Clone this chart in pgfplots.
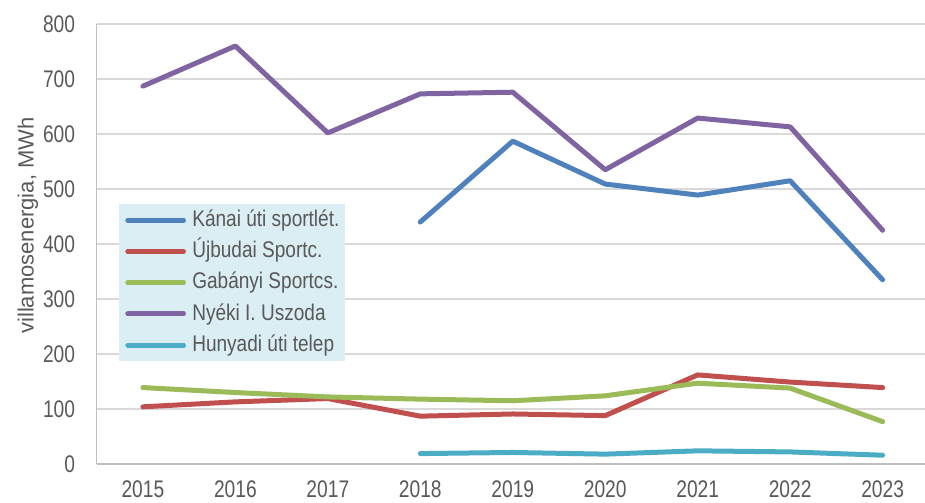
\documentclass[border=0pt]{standalone}
\usepackage{fontspec}
\setmainfont{Liberation Sans}
\newfontfamily\tickfont{Liberation Sans}[FakeStretch=0.8]
\newfontfamily\legfont{Liberation Sans}[FakeStretch=0.84]
\usepackage{pgfplots}
\usepackage{pgfplotstable}
\pgfplotsset{compat=1.18}
\definecolor{txt}{HTML}{595959}
\definecolor{gridc}{HTML}{D9D9D9}
\definecolor{axc}{HTML}{BFBFBF}
\definecolor{legfill}{HTML}{DAEEF3}
\definecolor{cblue}{HTML}{4F81BD}
\definecolor{cred}{HTML}{C0504D}
\definecolor{cgreen}{HTML}{9BBB59}
\definecolor{cpurple}{HTML}{8064A2}
\definecolor{cteal}{HTML}{4BACC6}
\pgfplotstableread{
year kanai ujbudai gabanyi nyeki hunyadi
2015 nan 104 139 687 nan
2016 nan 113 130 760 nan
2017 nan 119 122 602 nan
2018 440 87 118 673 19
2019 587 91 115 676 21
2020 509 88 124 535 18
2021 489 162 147 629 24
2022 515 149 138 613 22
2023 335 139 77 425 16
}\datatable
\begin{document}
\begin{tikzpicture}
\path[use as bounding box] (-72.5pt,-28.5pt) rectangle (621.2pt,348pt);
\begin{axis}[
  at={(0pt,0pt)}, anchor=south west,
  scale only axis, width=621.2pt, height=330pt,
  xmin=2014.5, xmax=2023.458, ymin=0, ymax=800,
  xtick={2015,2016,...,2023}, ytick={0,100,...,800},
  xticklabels={2015,2016,2017,2018,2019,2020,2021,2022,2023},
  major tick length=0pt,
  axis lines*=left,
  axis line style={draw=axc, line width=1pt, -},
  ymajorgrids, grid style={draw=gridc, line width=1pt},
  tick label style={font=\tickfont\fontsize{18}{20}\selectfont, text=txt, inner sep=0pt},
  yticklabel style={anchor=east, xshift=-16pt},
  xticklabel style={anchor=north, yshift=-12pt},
  /pgf/number format/assume math mode=true,
  /pgf/number format/1000 sep={},
  ylabel={villamosenergia, MWh},
  ylabel style={at={(axis description cs:-0.0829,0.542)}, anchor=center, font=\fontsize{16.5}{18}\selectfont, text=txt, inner sep=0pt},
  legend style={at={(axis description cs:0.0270,0.5909)}, anchor=north west, fill=legfill, draw=none,
    inner xsep=4.5pt, inner ysep=4pt, font=\legfont\fontsize{17}{19}\selectfont, text=txt, row sep=7.4pt,
    nodes={inner sep=0pt, text height=12.7pt, text depth=3.3pt},
    /tikz/every odd column/.style={column sep=4.9pt}},
  legend cell align=left,
  legend image code/.code={\path (0pt,0pt) -- (41.6pt,0pt); \draw[#1, line width=3.75pt, line cap=round] (4.9pt,0pt) -- (41.6pt,0pt);},
]
\addplot[cblue, line width=3.75pt, line join=round, line cap=round] table[x=year,y=kanai]{\datatable};
\addlegendentry{Kánai úti sportlét.}
\addplot[cred, line width=3.75pt, line join=round, line cap=round] table[x=year,y=ujbudai]{\datatable};
\addlegendentry{Újbudai Sportc.}
\addplot[cgreen, line width=3.75pt, line join=round, line cap=round] table[x=year,y=gabanyi]{\datatable};
\addlegendentry{Gabányi Sportcs.}
\addplot[cpurple, line width=3.75pt, line join=round, line cap=round] table[x=year,y=nyeki]{\datatable};
\addlegendentry{Nyéki I. Uszoda}
\addplot[cteal, line width=3.75pt, line join=round, line cap=round] table[x=year,y=hunyadi]{\datatable};
\addlegendentry{Hunyadi úti telep}
\end{axis}
\end{tikzpicture}
\end{document}
